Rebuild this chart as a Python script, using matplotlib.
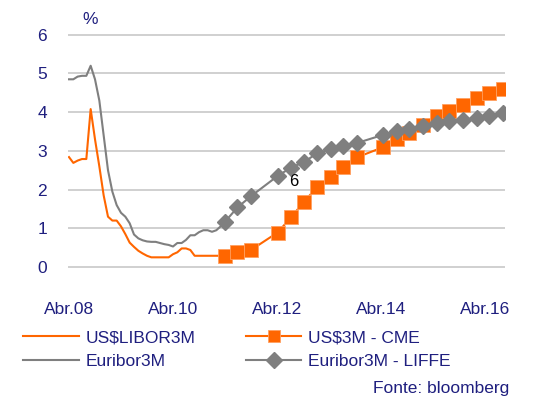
import numpy as np
import matplotlib
matplotlib.use("Agg")
import matplotlib.pyplot as plt

plt.rcParams['font.family'] = ['Liberation Sans', 'DejaVu Sans']

NAVY = "#1f1f7f"
ORANGE = "#ff6600"
GRAY = "#7f7f7f"

# historico mensal, Abr.08 -> Mar.11
hist_x = 2008.25 + np.arange(36) / 12
libor = [2.84, 2.69, 2.75, 2.79, 2.79, 4.08, 3.30, 2.60, 1.85, 1.30, 1.20, 1.20,
         1.05, 0.85, 0.63, 0.52, 0.42, 0.35, 0.29, 0.25, 0.25, 0.25, 0.25, 0.25,
         0.33, 0.38, 0.48, 0.48, 0.44, 0.29, 0.29, 0.29, 0.29, 0.29, 0.29, 0.29]
euribor = [4.85, 4.85, 4.92, 4.94, 4.94, 5.20, 4.85, 4.30, 3.40, 2.50, 1.95, 1.60,
           1.40, 1.30, 1.13, 0.84, 0.74, 0.69, 0.66, 0.65, 0.65, 0.62, 0.59, 0.57,
           0.53, 0.62, 0.62, 0.70, 0.82, 0.82, 0.90, 0.95, 0.95, 0.91, 0.95, 1.05]

# futuros
fut_x = [2011.25, 2011.49, 2011.75, 2012.26, 2012.52, 2012.77, 2013.02, 2013.29,
         2013.52, 2013.78, 2014.28, 2014.56, 2014.79, 2015.05, 2015.32, 2015.56,
         2015.83, 2016.09, 2016.33, 2016.60]
cme = [0.29, 0.38, 0.44, 0.89, 1.28, 1.69, 2.06, 2.32, 2.58, 2.83,
       3.09, 3.30, 3.45, 3.67, 3.90, 4.04, 4.19, 4.36, 4.50, 4.59]
liffe = [1.17, 1.54, 1.83, 2.35, 2.57, 2.71, 2.94, 3.04, 3.13, 3.20,
         3.41, 3.51, 3.56, 3.64, 3.71, 3.76, 3.80, 3.84, 3.90, 3.97]

xtick_pos = [2008.25, 2010.25, 2012.25, 2014.25, 2016.25]
xtick_lab = ["Abr.08", "Abr.10", "Abr.12", "Abr.14", "Abr.16"]
yticks = [0, 1, 2, 3, 4, 5, 6]

fig = plt.figure(figsize=(5.33, 4.01), dpi=100)
ax = fig.add_axes([0.1276, 0.3052, 0.8199, 0.637])

ax.plot(hist_x, libor, color=ORANGE, lw=1.5, label="US$LIBOR3M")
ax.plot(hist_x, euribor, color=GRAY, lw=1.5, label="Euribor3M")
ax.plot(fut_x, cme, color=ORANGE, lw=1.5, marker="s", ms=9.5,
        mfc=ORANGE, mec="#ffa060", mew=0.6, label="US$3M - CME")
ax.plot(fut_x, liffe, color=GRAY, lw=1.5, marker="D", ms=8.5,
        mfc=GRAY, mec=GRAY, label="Euribor3M - LIFFE")

ax.text(2012.58, 2.2, "6", fontsize=12, color="black", ha="center", va="center")

ax.set_xlim(2008.231, 2016.635)
ax.set_ylim(-0.3, 6.3)
ax.set_yticks(yticks)
ax.set_xticks(xtick_pos, xtick_lab)
ax.yaxis.grid(True, color="#c8c8c8", lw=1.2)
ax.set_axisbelow(True)
for s in ax.spines.values():
    s.set_visible(False)
ax.tick_params(length=0, labelsize=12.5, labelcolor=NAVY)
ax.tick_params(axis="x", pad=17)
ax.tick_params(axis="y", pad=15)

fig.text(90 / 533, 1 - 20 / 401, "%", fontsize=12.5, color=NAVY, ha="center", va="center")

h, l = ax.get_legend_handles_labels()
leg = fig.legend(h, l, ncol=2,
                 loc="upper left", bbox_to_anchor=(23 / 533, 1 - 330 / 401),
                 frameon=False, fontsize=12.5, handlelength=3.2, handletextpad=0.4,
                 columnspacing=2.9, labelspacing=0.5, borderpad=0, borderaxespad=0,
                 markerscale=0.9)
for t in leg.get_texts():
    t.set_color(NAVY)

fig.text(509 / 533, 1 - 389 / 401, "Fonte: bloomberg", fontsize=12.5, color=NAVY,
         ha="right", va="center")

fig.savefig("out.png", dpi=100)
